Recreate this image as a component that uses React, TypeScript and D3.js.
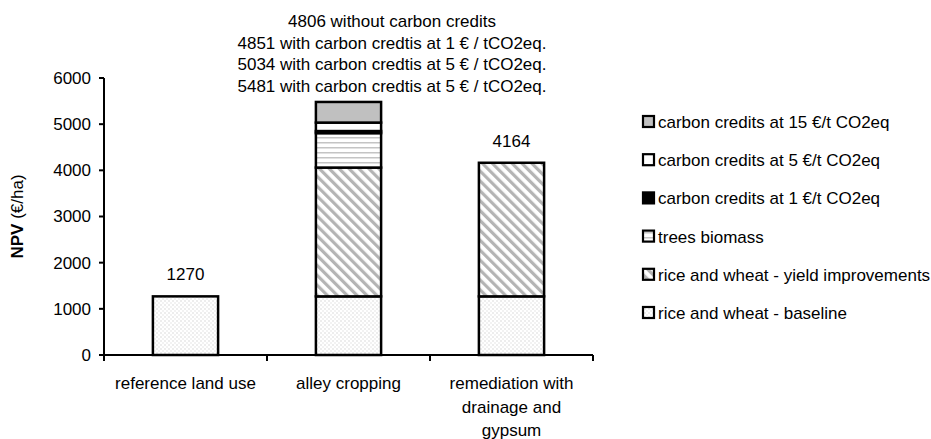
import React from "react";
import * as d3 from "d3";

// Land-use options and NPV components (€/ha), stacked bottom to top
const categories = ["reference land use", "alley cropping", "remediation with drainage and gypsum"];
const categoryLines = [["reference land use"], ["alley cropping"], ["remediation with", "drainage and", "gypsum"]];

const seriesNames = [
  "rice and wheat - baseline",
  "rice and wheat - yield improvements",
  "trees biomass",
  "carbon credits at 1 €/t CO2eq",
  "carbon credits at 5 €/t CO2eq",
  "carbon credits at 15 €/t CO2eq",
];
const baseline = [1270, 1270, 1270];
const yieldImprovements = [0, 2790, 2894];
const treesBiomass = [0, 746, 0];
const credits1 = [0, 45, 0];
const credits5 = [0, 183, 0];
const credits15 = [0, 447, 0];

const yTicks = [0, 1000, 2000, 3000, 4000, 5000, 6000];
const totalLabels = ["1270", "", "4164"];
const alleyNotes = [
  "4806 without carbon credits",
  "4851 with carbon credtis at 1 € / tCO2eq.",
  "5034 with carbon credtis at 5 € / tCO2eq.",
  "5481 with carbon credtis at 5 € / tCO2eq.",
];

const FONT = "'Liberation Sans', Arial, Helvetica, sans-serif";
const FS = 17;
const fills = [
  "url(#dots)",
  "url(#diag)",
  "url(#hlines)",
  "#000000",
  "#ffffff",
  "#c0c0c0",
];

export default function App() {
  const W = 931;
  const H = 439;
  const x0 = 104;
  const x1 = 593;
  const yTop = 78;
  const yBot = 355;

  const x = d3.scaleBand<string>().domain(categories).range([x0, x1]).paddingInner(0.6).paddingOuter(0.3);
  const y = d3.scaleLinear().domain([0, 6000]).range([yBot, yTop]);

  const values = [baseline, yieldImprovements, treesBiomass, credits1, credits5, credits15];
  const rows = categories.map((c, i) => {
    const r: Record<string, number | string> = { cat: c };
    seriesNames.forEach((s, k) => (r[s] = values[k][i]));
    return r;
  });
  const stacked = d3.stack<Record<string, number | string>>().keys(seriesNames)(rows as any);

  const step = x.step();
  const boundaries = d3.range(categories.length + 1).map((i) => x0 + i * step);

  const totals = categories.map((_, i) => values.reduce((s, v) => s + v[i], 0));

  const legendX = 642;
  const legendY0 = 122;
  const legendStep = 38.2;
  const legendOrder = [5, 4, 3, 2, 1, 0];

  return (
    <svg width={W} height={H} style={{ position: "absolute", left: 0, top: 0, background: "#fff" }}>
      <defs>
        <pattern id="dots" width="4" height="4" patternUnits="userSpaceOnUse">
          <rect width="4" height="4" fill="#fff" />
          <rect x="0.5" y="0.5" width="1" height="1" fill="#b8b8b8" />
          <rect x="2.5" y="2.5" width="1" height="1" fill="#cccccc" />
        </pattern>
        <pattern id="diag" width="7" height="7" patternUnits="userSpaceOnUse" patternTransform="rotate(-45)">
          <rect width="7" height="7" fill="#fff" />
          <rect x="0" y="0" width="3.2" height="7" fill="#b4b4b4" />
        </pattern>
        <pattern id="hlines" width="6" height="5" patternUnits="userSpaceOnUse">
          <rect width="6" height="5" fill="#fff" />
          <rect x="0" y="2" width="6" height="1.5" fill="#c4c4c4" />
        </pattern>
      </defs>

      {/* bars */}
      {stacked.map((layer, k) =>
        layer.map((d, i) => {
          const v = d[1] - d[0];
          if (v <= 0) return null;
          const bx = x(categories[i])!;
          return (
            <rect
              key={`${k}-${i}`}
              x={bx}
              y={y(d[1])}
              width={x.bandwidth()}
              height={y(d[0]) - y(d[1])}
              fill={fills[k]}
              stroke="#000"
              strokeWidth={2.5}
            />
          );
        })
      )}

      {/* y axis */}
      <line x1={x0} x2={x0} y1={yTop} y2={yBot} stroke="#000" strokeWidth={2} />
      {yTicks.map((t) => (
        <g key={t}>
          <line x1={x0 - 5} x2={x0} y1={y(t)} y2={y(t)} stroke="#000" strokeWidth={2} />
          <text x={x0 - 13} y={y(t)} dy="0.35em" textAnchor="end" fontFamily={FONT} fontSize={FS} fill="#000">
            {t}
          </text>
        </g>
      ))}

      {/* x axis */}
      <line x1={x0 - 5} x2={x1} y1={yBot} y2={yBot} stroke="#000" strokeWidth={2} />
      {boundaries.map((bx, i) => (
        <line key={i} x1={bx} x2={bx} y1={yBot} y2={yBot + 6} stroke="#000" strokeWidth={2} />
      ))}
      {categories.map((c, i) =>
        categoryLines[i].map((ln, j) => (
          <text
            key={`${c}-${j}`}
            x={x(c)! + x.bandwidth() / 2}
            y={389 + j * 23.5}
            textAnchor="middle"
            fontFamily={FONT}
            fontSize={FS}
            fill="#000"
          >
            {ln}
          </text>
        ))
      )}

      {/* y axis title */}
      <text
        transform={`translate(23, ${(yTop + yBot) / 2}) rotate(-90)`}
        textAnchor="middle"
        fontFamily={FONT}
        fontSize={FS}
        fill="#000"
      >
        <tspan fontWeight="bold">NPV</tspan>
        <tspan> (€/ha)</tspan>
      </text>

      {/* value labels */}
      {categories.map((c, i) =>
        totalLabels[i] ? (
          <text
            key={c}
            x={x(c)! + x.bandwidth() / 2}
            y={y(totals[i]) - 16}
            textAnchor="middle"
            fontFamily={FONT}
            fontSize={FS}
            fill="#000"
          >
            {totalLabels[i]}
          </text>
        ) : null
      )}
      {alleyNotes.map((t, j) => (
        <text key={j} x={392} y={27 + j * 21.7} textAnchor="middle" fontFamily={FONT} fontSize={FS} fill="#000">
          {t}
        </text>
      ))}

      {/* legend */}
      {legendOrder.map((k, j) => {
        const cy = legendY0 + j * legendStep;
        return (
          <g key={k}>
            <rect x={legendX + 1} y={cy - 6} width={11} height={11} fill={fills[k]} stroke="#000" strokeWidth={2.2} />
            <text x={legendX + 16} y={cy} dy="0.35em" fontFamily={FONT} fontSize={FS} fill="#000">
              {seriesNames[k]}
            </text>
          </g>
        );
      })}
    </svg>
  );
}
